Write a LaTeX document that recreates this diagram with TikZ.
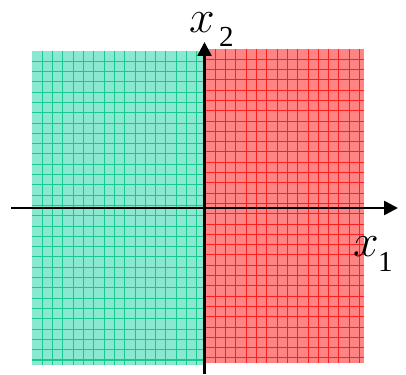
\documentclass[tikz,border=0pt]{standalone}
\usepackage{fix-cm}
\usepackage{fontspec}
\setmainfont{Liberation Serif}
\usetikzlibrary{arrows.meta}
\definecolor{gfill}{RGB}{138,232,208}
\definecolor{gline}{RGB}{25,200,145}
\definecolor{rfill}{RGB}{255,132,132}
\definecolor{rline}{RGB}{255,30,30}
\tikzset{
  axis/.style={line width=2.6pt,-{Triangle[length=14pt,width=14pt]}},
  lbl/.style={inner sep=0pt,anchor=base west,font=\fontsize{46}{46}\selectfont},
  sub/.style={inner sep=0pt,anchor=base west,font=\fontsize{29}{29}\selectfont},
  gl/.style={line width=1pt},
}
\begin{document}
\begin{tikzpicture}[x=1pt,y=1pt]
\useasboundingbox (0,0) rectangle (406,374);
% green region
\fill[gfill] (32,9) rectangle (204.5,323);
\foreach \i in {1,...,16} \draw[gline,gl] ({32+10.3*\i},9) -- ({32+10.3*\i},323);
\foreach \j in {1,...,30} \draw[gline,gl] (32,{323-10.3*\j}) -- (204.5,{323-10.3*\j});
% red region
\fill[rfill] (204.5,11) rectangle (364,325);
\foreach \i in {1,...,15} \draw[rline,gl] ({205+10.3*\i},11) -- ({205+10.3*\i},325);
\foreach \j in {1,...,30} \draw[rline,gl] (204.5,{325-10.3*\j}) -- (364,{325-10.3*\j});
% axes
\coordinate (hs) at (11,166);
\coordinate (he) at (398,166);
\coordinate (vs) at (204.5,0);
\coordinate (ve) at (204.5,332);
\draw[axis] (hs) -- (he);
\draw[axis] (vs) -- (ve);
% labels
\node[lbl] (x2) at (189,341) {$x$};
\node[sub] (s2) at (219,327) {2};
\node[lbl] (x1) at (353,117) {$x$};
\node[sub] (s1) at (378,102) {1};
\end{tikzpicture}
\end{document}
